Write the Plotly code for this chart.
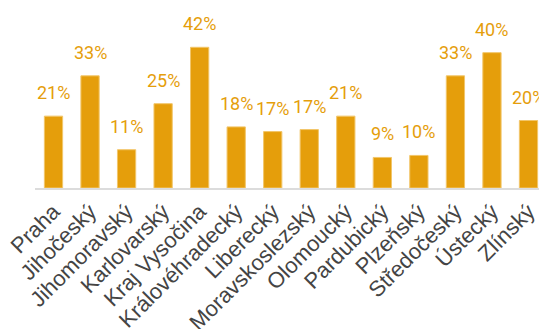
import plotly.graph_objects as go

regions = ["Praha", "Jihočeský", "Jihomoravský", "Karlovarský", "Kraj Vysočina",
           "Královéhradecký", "Liberecký", "Moravskoslezský", "Olomoucký",
           "Pardubický", "Plzeňský", "Středočeský", "Ústecký", "Zlínský"]
values = [21.4, 33.4, 11.4, 25.1, 41.9, 18.2, 16.8, 17.4, 21.4, 9.1, 9.7, 33.4, 40.3, 20.1]
labels = ["21%", "33%", "11%", "25%", "42%", "18%", "17%", "17%", "21%", "9%", "10%", "33%", "40%", "20%"]

bar_color = "#E59E0B"

fig = go.Figure()
fig.add_trace(go.Bar(
    x=regions, y=values,
    marker=dict(color=bar_color, line=dict(color="#F2C66A", width=1)),
    hoverinfo="skip",
))

for r, v, t in zip(regions, values, labels):
    fig.add_annotation(x=r, y=v, text=t, showarrow=False, yanchor="bottom",
                       yshift=11, font=dict(family="Roboto", size=18, color=bar_color))

# page body has an 8px margin, so the figure is sized to fit the window
fig.update_layout(
    width=539, height=321,
    margin=dict(l=27, r=0, t=0, b=141, autoexpand=False),
    plot_bgcolor="white", paper_bgcolor="white",
    bargap=0.5, showlegend=False,
    xaxis=dict(showline=True, linecolor="#dcdcdc", linewidth=2, tickangle=-45,
               ticks="", automargin=False,
               tickfont=dict(family="Liberation Sans, Arial", size=22, color="#444444")),
    yaxis=dict(range=[0, 53.6], visible=False, showgrid=False, zeroline=False),
)

fig.write_html("out.html")
